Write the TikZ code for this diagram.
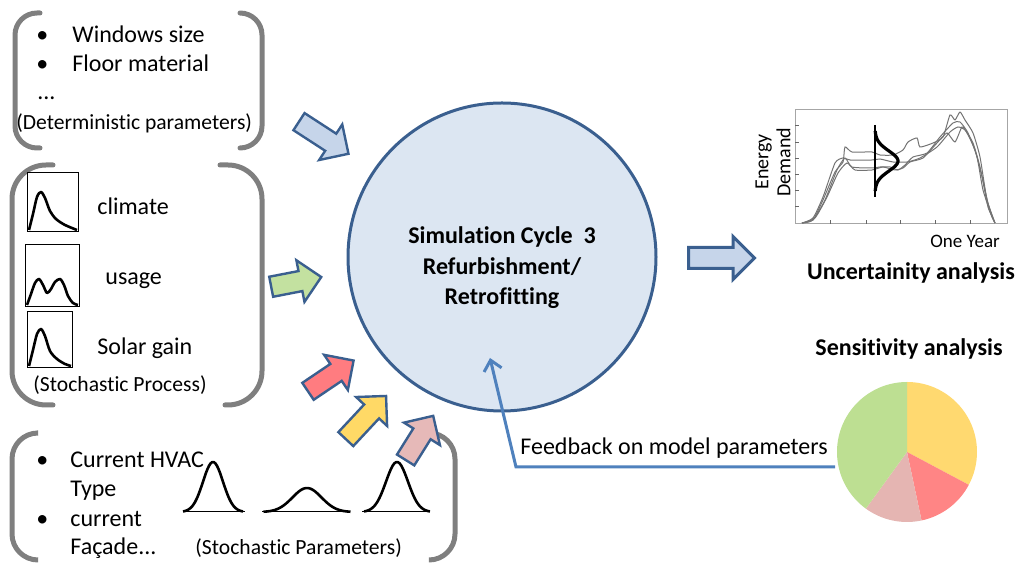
\documentclass[tikz,border=0pt]{standalone}
\usepackage{fontspec}
\setmainfont[Ligatures=NoCommon]{Carlito}
\usetikzlibrary{shapes.arrows,arrows.meta}

\definecolor{bracketgray}{HTML}{7F7F7F}
\definecolor{edgeblue}{HTML}{3A5F8F}
\definecolor{simfill}{HTML}{DCE6F2}
\definecolor{arrblue}{HTML}{C6D5EA}
\definecolor{arrgreen}{HTML}{C3E1A0}
\definecolor{arrred}{HTML}{FF7C80}
\definecolor{arryellow}{HTML}{FFD966}
\definecolor{arrpink}{HTML}{E6B9B8}
\definecolor{pieyellow}{HTML}{FFD970}
\definecolor{piered}{HTML}{FF8585}
\definecolor{piepink}{HTML}{E5B5B2}
\definecolor{piegreen}{HTML}{BDDF92}
\definecolor{fbblue}{HTML}{4F81BD}

\tikzset{
	bracket/.style={draw=bracketgray, line width=2.5pt, line cap=round},
	txt/.style={anchor=base west, inner sep=0pt, font=\fontsize{12}{14}\selectfont},
	paren/.style={txt, font=\fontsize{10.8}{13}\selectfont},
	boldtxt/.style={anchor=base, inner sep=0pt, font=\fontsize{12}{14}\selectfont\bfseries},
	blockarrow/.style={single arrow, draw=edgeblue, line width=1.2pt, inner sep=4.5pt,
		single arrow head extend=5.5pt, anchor=tail},
	minibox/.style={draw=black, line width=0.5pt},
	density/.style={draw=black, line width=1.3pt, line join=round},
	demand/.style={draw=black!55, line width=0.5pt, smooth, tension=0.35},
}

\begin{document}
\begin{tikzpicture}[x=0.5pt, y=-0.5pt]
	\useasboundingbox (0,0) rectangle (1019,565);

	% deterministic parameters
	\draw[bracket, rounded corners=11pt] (40,13) -- (15,13) -- (15,148) -- (40,148);
	\draw[bracket, rounded corners=11pt] (240,13) -- (262,13) -- (262,148) -- (240,148);
	\node[txt] (b1) at (36,43) {•};
	\node[txt] (win) at (72,43) {Windows size};
	\node[txt] (b2) at (36,72) {•};
	\node[txt] (floor) at (72,72) {Floor material};
	\node[txt] (dots) at (37,100) {...};
	\node[paren] (det) at (16,130) {(Deterministic parameters)};

	% stochastic process
	\draw[bracket, rounded corners=17pt] (53,165) -- (12,165) -- (12,405) -- (53,405);
	\draw[bracket, rounded corners=17pt] (220,165) -- (262,165) -- (262,405) -- (225,405);
	\draw[minibox] (27,173) rectangle (78,232);
	\draw[density] plot[smooth, tension=0.5] coordinates {(29,230) (33,214) (37,197) (41,192) (45,198) (50,211) (56,219) (65,225) (77,230)};
	\draw[minibox] (25,245) rectangle (79,307);
	\draw[density] plot[smooth, tension=0.5] coordinates {(27,305) (31,294) (35,283) (39,279) (43,285) (47,293) (51,289) (55,282) (60,279) (64,285) (68,296) (73,303) (78,305)};
	\draw[minibox] (27,312) rectangle (72,368);
	\draw[density] plot[smooth, tension=0.5] coordinates {(29,366) (33,350) (37,334) (41,329) (45,336) (50,351) (57,359) (65,364) (71,366)};
	\node[txt] (climate) at (97,215) {climate};
	\node[txt] (usage) at (105,285) {usage};
	\node[txt] (solar) at (97,355) {Solar gain};
	\node[paren] (stproc) at (33,392) {(Stochastic Process)};

	% stochastic parameters
	\draw[bracket, rounded corners=13pt] (37,433) -- (12,433) -- (12,560) -- (37,560);
	\draw[bracket, rounded corners=13pt] (430,433) -- (455,433) -- (455,560) -- (430,560);
	\node[txt] (b3) at (36,468) {•};
	\node[txt] (hvac) at (70,468) {Current HVAC};
	\node[txt] (type) at (70,497) {Type};
	\node[txt] (b4) at (36,527) {•};
	\node[txt] (cur) at (70,527) {current};
	\node[txt] (facade) at (70,555) {Façade...};
	\node[paren] (stpar) at (195,555) {(Stochastic Parameters)};
	\draw[line width=0.5pt] (183,512) -- (245,512) (262,512) -- (350,512) (362,512) -- (428,512);
	\draw[density] plot[domain=-3:3, samples=40] ({213+10*\x}, {512-50*exp(-\x*\x/2)});
	\draw[density] plot[domain=-3:3, samples=40] ({307+14.5*\x}, {512-24*exp(-\x*\x/2)});
	\draw[density] plot[domain=-3:3, samples=40] ({397+11*\x}, {512-50*exp(-\x*\x/2)});

	% simulation
	\node[circle, draw=edgeblue, line width=1.5pt, fill=simfill, minimum size=154pt, inner sep=0pt] (sim) at (502,257) {};
	\node[boldtxt, align=center, anchor=center, font=\fontsize{12}{15.3}\selectfont\bfseries] (simtxt) at (502,268)
		{Simulation Cycle\ \ 3\\Refurbishment/\\Retrofitting};

	\node[blockarrow, fill=arrblue, rotate=-33, minimum height=29.5pt] (detarrow) at (298,121) {};
	\node[blockarrow, fill=arrgreen, rotate=11, minimum height=25.5pt] (procarrow) at (270,287) {};
	\node[blockarrow, fill=arrred, rotate=34, minimum height=27.5pt] (redarrow) at (307,392) {};
	\node[blockarrow, fill=arryellow, rotate=47, minimum height=29.5pt] (yelarrow) at (345,440) {};
	\node[blockarrow, fill=arrpink, rotate=58, minimum height=26pt] (pinkarrow) at (405,461) {};
	\node[blockarrow, fill=arrblue, rotate=0, minimum height=33pt, line width=1.5pt] (outarrow) at (687,258) {};

	% uncertainty plot
	\draw[black!35, line width=0.5pt] (795,110) rectangle (1007,224);
	\foreach \ty in {125,142,158,174,190,206}
		\draw[black!60, line width=0.4pt] (795,\ty) -- (799,\ty);
	\foreach \tx in {830,866,900,935,970}
		\draw[black!60, line width=0.4pt] (\tx,224) -- (\tx,220);
	\draw[demand] plot coordinates {(802,223) (813,220) (823,200) (835,172) (843,162) (845,147) (852,152) (872,152) (880,155) (893,155) (903,150) (908,142) (917,138) (920,147) (933,143) (943,137) (950,115) (955,120) (960,112) (965,120) (973,133) (980,157) (987,200) (995,223)};
	\draw[demand] plot coordinates {(802,223) (813,218) (823,197) (835,163) (843,158) (850,160) (872,160) (880,159) (893,162) (907,162) (920,158) (937,147) (950,132) (958,127) (965,130) (973,143) (980,167) (988,203) (995,223)};
	\draw[demand] plot coordinates {(802,223) (813,220) (825,200) (837,170) (845,158) (852,167) (872,168) (880,167) (890,167) (898,170) (905,165) (913,157) (927,153) (940,137) (953,123) (960,122) (968,133) (977,157) (983,190) (992,217) (995,223)};
	\draw[demand] plot coordinates {(802,223) (815,218) (827,197) (838,173) (847,163) (855,170) (872,170) (883,167) (895,170) (903,168) (910,162) (923,158) (937,143) (947,133) (955,142) (962,127) (967,133) (975,150) (982,177) (988,207) (995,223)};
	\draw[black, line width=0.6pt] (875,125) -- (875,197);
	\draw[density, line width=1.6pt] plot[domain=-3:3, samples=40] ({875+23*exp(-\x*\x/2)}, {161+10*\x});
	\node[rotate=90, align=center, inner sep=0pt, font=\fontsize{10}{11}\selectfont] (energy) at (773,162) {Energy\\Demand};
	\node[txt, font=\fontsize{9.5}{11}\selectfont] (year) at (930,248) {One Year};
	\node[boldtxt] (unc) at (911,280) {Uncertainity analysis};

	% sensitivity pie
	\node[boldtxt] (sens) at (909,356) {Sensitivity analysis};
	\coordinate (pie) at (907,452);
	\fill[pieyellow] (pie) -- ++(-90:70) arc[start angle=-90, end angle=28, radius=70] -- cycle;
	\fill[piered] (pie) -- ++(28:70) arc[start angle=28, end angle=78, radius=70] -- cycle;
	\fill[piepink] (pie) -- ++(78:70) arc[start angle=78, end angle=126, radius=70] -- cycle;
	\fill[piegreen] (pie) -- ++(126:70) arc[start angle=126, end angle=270, radius=70] -- cycle;

	% feedback
	\node[txt] (fb) at (520,455) {Feedback on model parameters};
	\coordinate (fbstart) at (835,467);
	\coordinate (fbcorner) at (516,467);
	\coordinate (fbtip) at (490,358);
	\draw[fbblue, line width=1.5pt, -{Straight Barb[length=5pt, width=9pt]}] (fbstart) -- (fbcorner) -- (fbtip);
\end{tikzpicture}
\end{document}
